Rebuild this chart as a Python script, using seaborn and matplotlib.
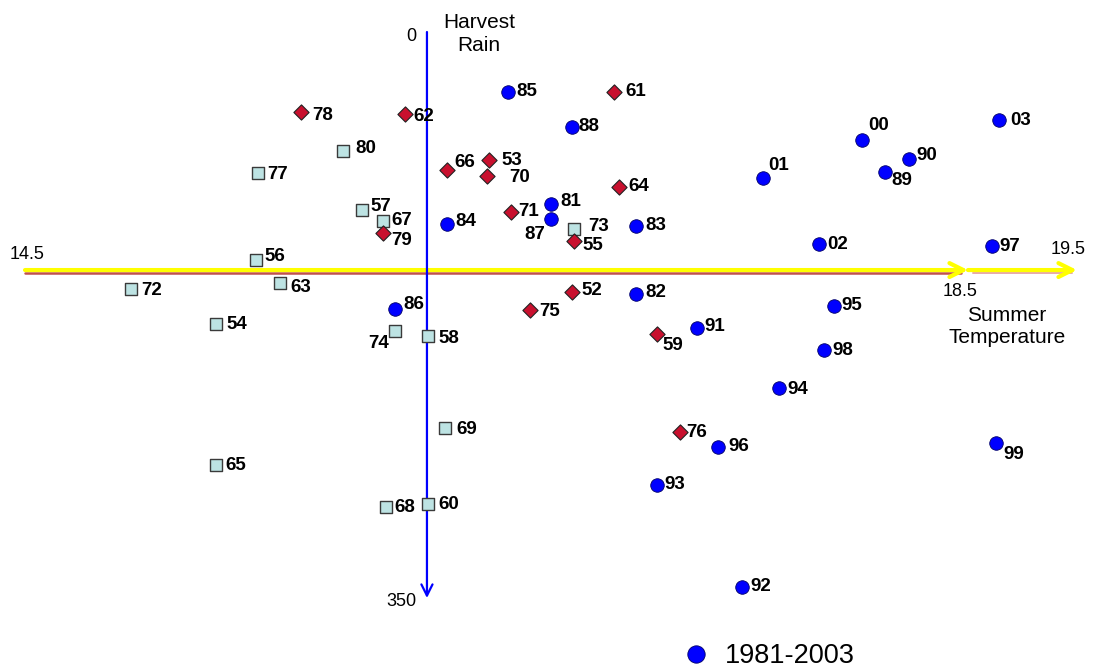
import matplotlib
matplotlib.use("Agg")
from matplotlib import pyplot as plt
from matplotlib.lines import Line2D
import pandas as pd
import seaborn as sns

# vintages 1981-2003
recent_years = ["85", "88", "81", "87", "84", "83", "01", "00", "90", "89", "03", "02",
                "97", "82", "86", "95", "91", "98", "94", "96", "99", "93", "92"]
recent_temp = [16.55, 16.82, 16.73, 16.73, 16.29, 17.09, 17.63, 18.05, 18.25, 18.15, 18.63, 17.87,
               18.60, 17.09, 16.07, 17.93, 17.35, 17.89, 17.70, 17.44, 18.62, 17.18, 17.54]
recent_rain = [37.1, 58.7, 106.4, 115.6, 118.7, 120.0, 90.3, 66.5, 78.5, 86.6, 54.4, 131.1,
               132.6, 162.0, 171.3, 169.7, 183.0, 196.6, 220.1, 256.6, 254.2, 280.1, 343.2]

# good older vintages
good_years = ["78", "62", "61", "66", "53", "70", "64", "71", "79", "55", "52", "75", "59", "76"]
good_temp = [15.67, 16.11, 17.00, 16.29, 16.47, 16.46, 17.02, 16.56, 16.02, 16.83, 16.82, 16.64, 17.18, 17.28]
good_rain = [49.5, 50.7, 37.4, 85.3, 79.2, 89.0, 95.8, 111.3, 124.3, 129.2, 160.8, 172.2, 186.7, 247.3]

# poor older vintages
poor_years = ["80", "77", "57", "67", "73", "56", "72", "63", "54", "74", "58", "69", "65", "68", "60"]
poor_temp = [15.85, 15.49, 15.93, 16.02, 16.83, 15.48, 14.95, 15.58, 15.31, 16.07, 16.21, 16.28, 15.31, 16.03, 16.21]
poor_rain = [73.6, 87.2, 110.1, 116.9, 121.8, 140.7, 158.9, 154.9, 180.6, 184.9, 188.0, 244.9, 267.8, 293.7, 291.6]

mean_temp = 16.205
mean_rain = 147.2

# label offsets in pixels (dx right, dy down); negative dx = right aligned
label_offsets = {
    "85": (8, 0), "88": (6.5, 0), "81": (9.5, -3), "87": (-5, 16), "84": (8.5, -2), "83": (9.5, -1),
    "01": (5, -13), "00": (6, -14.5), "90": (7.5, -3), "89": (6, 8), "03": (11.5, 1), "02": (8, 0),
    "97": (7.5, 0.5), "82": (10, -1), "86": (8, -5), "95": (8, -0.5), "91": (7.5, -1), "98": (8, 1),
    "94": (7.5, 2), "96": (10, 0), "99": (7, 11), "93": (7.5, 0), "92": (8.5, -1),
    "78": (11, 3), "62": (8.5, 3), "61": (11.5, -0.5), "66": (7, -7), "53": (12, 0), "70": (22.5, 2),
    "64": (9, 0), "71": (7.5, 0), "79": (7.5, 7), "55": (8.5, 5), "52": (10, -2), "75": (10, 1.5),
    "59": (5.5, 12), "76": (6, 1),
    "80": (12, -3), "77": (9, 1), "57": (8, -4), "67": (8, -1), "73": (14, -2), "56": (8, -3.5),
    "72": (10, 2), "63": (11, 4.5), "54": (11, 0), "74": (-6.5, 12), "58": (10, 2), "69": (11.5, 1),
    "65": (9, 0), "68": (9, 1), "60": (10.5, 0.5),
}

sns.set_style("white")
plt.rcParams["font.family"] = ["Liberation Sans", "DejaVu Sans"]
plt.rcParams["text.color"] = "black"

fig = plt.figure(figsize=(10.96, 6.69), dpi=100)
ax = fig.add_axes([0, 0, 1, 1])

recent = pd.DataFrame({"temp": recent_temp, "rain": recent_rain, "year": recent_years})
good = pd.DataFrame({"temp": good_temp, "rain": good_rain, "year": good_years})
poor = pd.DataFrame({"temp": poor_temp, "rain": poor_rain, "year": poor_years})

# axes through the means
px = 1 / 235.75
arrow_y = dict(arrowstyle="->,head_length=1.0,head_width=0.5", color="#ffff00", lw=3.0,
               shrinkA=0, shrinkB=0)
ax.plot([14.5, 18.47], [mean_rain + 1.8, mean_rain + 1.8], color="#c0504d", lw=1.8, zorder=1)
ax.annotate("", xy=(18.5, mean_rain), xytext=(14.5, mean_rain), arrowprops=arrow_y, zorder=2)
ax.plot([18.52, 18.94], [mean_rain + 1.8, mean_rain + 1.8], color="#e8a8a8", lw=1.4, zorder=1)
ax.annotate("", xy=(18.5 + 109 * px, mean_rain), xytext=(18.5, mean_rain), arrowprops=arrow_y, zorder=2)
ax.annotate("", xy=(mean_temp, 350), xytext=(mean_temp, 0),
            arrowprops=dict(arrowstyle="->,head_length=0.8,head_width=0.4", color="#0000ff", lw=1.6,
                            shrinkA=0, shrinkB=0), zorder=3)

sns.scatterplot(data=poor, x="temp", y="rain", marker="s", s=80, color="#bde3e3",
                edgecolor="#3a3a3a", linewidth=1.0, ax=ax, zorder=4)
sns.scatterplot(data=good, x="temp", y="rain", marker="D", s=60, color="#c8102e",
                edgecolor="#222222", linewidth=0.8, ax=ax, zorder=4)
sns.scatterplot(data=recent, x="temp", y="rain", marker="o", s=95, color="#0000ff",
                edgecolor="#000066", linewidth=0.6, ax=ax, zorder=4)

for df in (recent, good, poor):
    for t, r, yr in zip(df["temp"], df["rain"], df["year"]):
        dx, dy = label_offsets[yr]
        ax.annotate(yr, (t, r), xytext=(dx / 1.389, -dy / 1.389), textcoords="offset points",
                    ha="right" if dx < 0 else "left", va="center", fontsize=13.5,
                    fontweight="bold", color="black", zorder=5)

# axis annotations
ax.text(mean_temp - 16 * px, 2.5, "0", ha="center", va="center", fontsize=13)
ax.text(mean_temp - 26 * px, 352, "350", ha="center", va="center", fontsize=13)
ax.text(mean_temp + 52 * px, 1.2, "Harvest\nRain", ha="center", va="center", fontsize=15, linespacing=1.22)
ax.text(14.5 + 2 * px, mean_rain - 9.5, "14.5", ha="center", va="center", fontsize=13)
ax.text(18.5 - 8 * px, mean_rain + 13, "18.5", ha="center", va="center", fontsize=13)
ax.text(18.5 + 100 * px, mean_rain - 12.5, "19.5", ha="center", va="center", fontsize=13)
ax.text(18.5 + 39 * px, mean_rain + 35, "Summer\nTemperature", ha="center", va="center",
        fontsize=15, linespacing=1.22)

ax.set_xlim(14.5 - 25 * px, 14.5 + 1071 * px)
ax.set_ylim(393.9, -19.79)
ax.set_axis_off()

handle = Line2D([], [], marker="o", linestyle="none", markersize=12.5,
                markerfacecolor="#0000ff", markeredgecolor="#000066", markeredgewidth=0.6)
ax.legend([handle], ["1981-2003"], loc="center left", bbox_to_anchor=(686.5 / 1096, 1 - 656 / 669),
          frameon=False, fontsize=19.5, borderpad=0, borderaxespad=0, handlelength=0.7,
          handletextpad=0.72, labelcolor="black")

plt.savefig("out.png", dpi=100)
